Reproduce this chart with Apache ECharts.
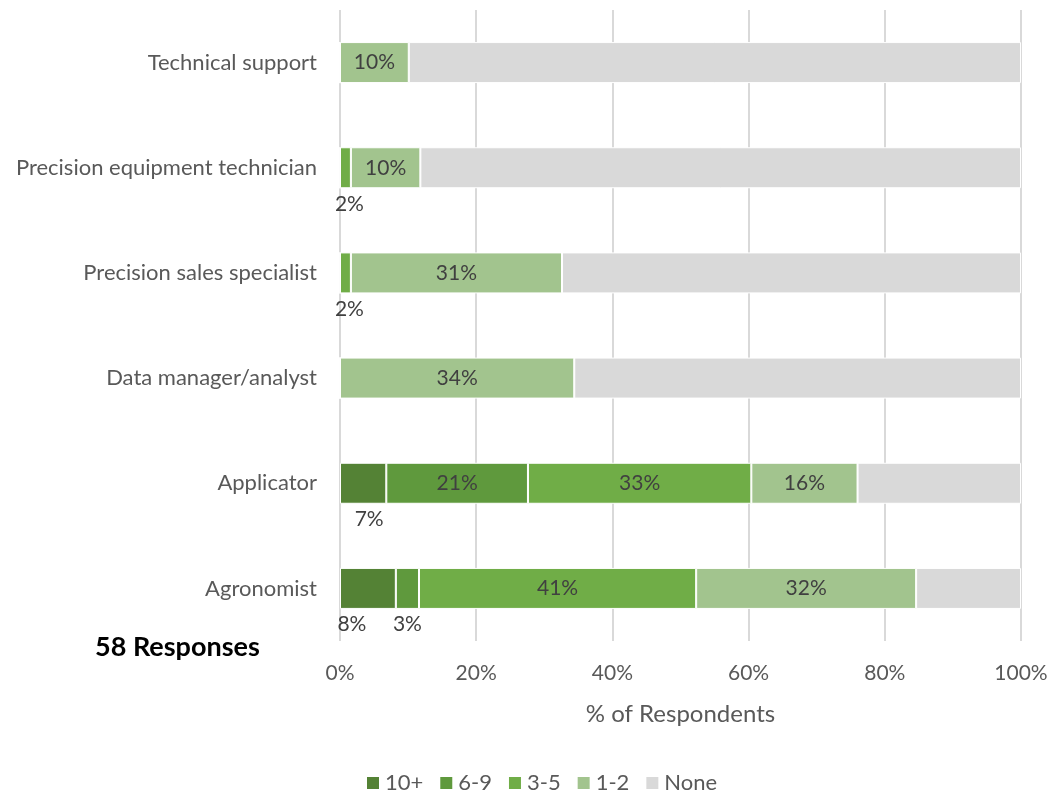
<!DOCTYPE html>
<html>
<head>
<meta charset="utf-8">
<script src="https://cdn.jsdelivr.net/npm/echarts@6/dist/echarts.min.js"></script>
<style>
html,body{margin:0;padding:0;background:#fff;}
#chart{width:1052px;height:795px;}
</style>
</head>
<body>
<div id="chart"></div>
<script>
// Categories bottom-to-top (ECharts category y axis starts at bottom)
const categories = ['Agronomist', 'Applicator', 'Data manager/analyst', 'Precision sales specialist', 'Precision equipment technician', 'Technical support'];
const seriesNames = ['10+', '6-9', '3-5', '1-2', 'None'];
const v10plus = [8.2, 6.8, 0, 0, 0, 0];
const v6to9 = [3.4, 20.8, 0, 0, 0, 0];
const v3to5 = [40.7, 32.8, 0, 1.6, 1.6, 0];
const v1to2 = [32.3, 15.6, 34.4, 31.0, 10.2, 10.1];
const vNone = [15.4, 24.0, 65.6, 67.4, 88.2, 89.9];
const xTicks = [0, 20, 40, 60, 80, 100];

const colors = ['#548235', '#5f993d', '#70ad47', '#a2c48e', '#d9d9d9'];
const values = [v10plus, v6to9, v3to5, v1to2, vNone];

// labels placed below the bar for narrow segments: [seriesIndex, dataIndex, offsetX]
const belowLabels = [[2, 3, 4], [2, 4, 4], [0, 1, 6], [0, 0, -16], [1, 0, 0]];

const font = 'Lato';
const grey = '#595959';

const series = seriesNames.map((name, si) => ({
  name: name,
  type: 'bar',
  stack: 'total',
  barWidth: 41,
  itemStyle: { color: colors[si], borderColor: '#ffffff', borderWidth: 1 },
  label: {
    show: si < 4,
    position: 'inside',
    color: '#404040',
    fontFamily: font,
    fontSize: 21,
    formatter: p => (p.value > 0 ? Math.round(p.value) + '%' : '')
  },
  emphasis: { disabled: true },
  data: values[si].map((v, di) => {
    const b = belowLabels.find(x => x[0] === si && x[1] === di);
    if (b) {
      return { value: v, label: { position: 'bottom', distance: 5, offset: [b[2], 0] } };
    }
    return v;
  })
}));

const chart = echarts.init(document.getElementById('chart'), null, { renderer: 'canvas' });
chart.setOption({
  animation: false,
  backgroundColor: '#ffffff',
  grid: { left: 340, right: 31, top: 10, bottom: 154, containLabel: false },
  xAxis: {
    type: 'value',
    min: 0, max: 100, interval: 20,
    axisLabel: { formatter: v => v + '%', color: grey, fontFamily: font, fontSize: 21, margin: 22 },
    axisLine: { show: false },
    axisTick: { show: false },
    splitLine: { show: true, lineStyle: { color: '#d9d9d9', width: 2 } },
    name: '% of Respondents',
    nameLocation: 'middle',
    nameGap: 61,
    nameTextStyle: { color: grey, fontFamily: font, fontSize: 24 }
  },
  yAxis: {
    type: 'category',
    data: categories,
    axisLine: { show: false },
    axisTick: { show: false },
    axisLabel: { color: grey, fontFamily: font, fontSize: 22, margin: 23 }
  },
  legend: {
    top: 767,
    left: 360,
    icon: 'rect',
    itemWidth: 14,
    itemHeight: 14,
    itemGap: 15,
    textStyle: { color: grey, fontFamily: font, fontSize: 22 },
    data: seriesNames
  },
  graphic: [{
    type: 'text',
    left: 95,
    top: 634,
    style: { text: '58 Responses', fill: '#000000', font: 'bold 27px Lato' }
  }],
  series: series
});
</script>
</body>
</html>
